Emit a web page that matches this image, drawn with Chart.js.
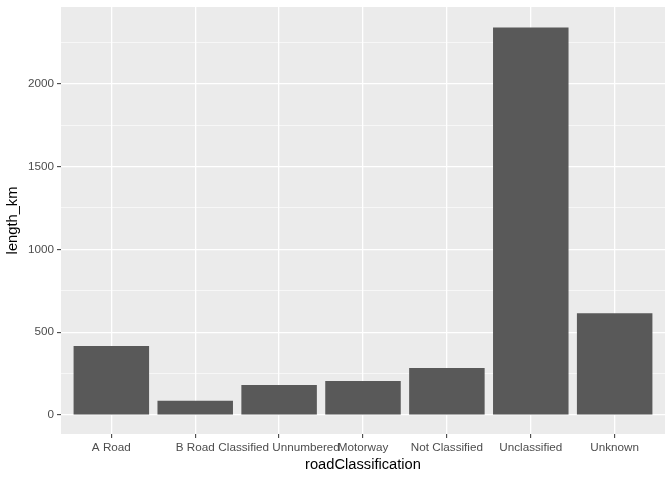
<!DOCTYPE html>
<html>
<head>
<meta charset="utf-8">
<script src="https://cdn.jsdelivr.net/npm/chart.js@4/dist/chart.umd.min.js"></script>
<style>
  html, body { margin: 0; padding: 0; background: #ffffff; }
  canvas { display: block; }
</style>
</head>
<body>
<canvas id="c" width="672" height="480"></canvas>
<script>
const categories = ["A Road", "B Road", "Classified Unnumbered", "Motorway", "Not Classified", "Unclassified", "Unknown"];
const lengthKm = [417, 86, 182, 206, 284, 2339, 615];
const yMajorTicks = [0, 500, 1000, 1500, 2000];
const yMinorTicks = [250, 750, 1250, 1750, 2250];

const FONT = "'Liberation Sans', Arial, Helvetica, sans-serif";

const panelBg = {
  id: 'panelBg',
  beforeDraw(chart) {
    const { ctx, chartArea: a } = chart;
    ctx.save();
    ctx.fillStyle = '#EBEBEB';
    ctx.fillRect(a.left, a.top, a.right - a.left, a.bottom - a.top);
    ctx.restore();
  }
};

const allY = yMajorTicks.concat(yMinorTicks).sort((a, b) => a - b);
const isMajor = v => yMajorTicks.includes(v);

new Chart(document.getElementById('c'), {
  type: 'bar',
  data: {
    datasets: [{
      data: categories.map((c, i) => ({ x: i + 1, y: lengthKm[i] })),
      backgroundColor: '#595959',
      borderWidth: 0,
      categoryPercentage: 1,
      barPercentage: 0.9
    }]
  },
  plugins: [panelBg],
  options: {
    responsive: false,
    animation: false,
    layout: { padding: { left: 0, right: 7, top: 7, bottom: 0 } },
    plugins: { legend: { display: false }, tooltip: { enabled: false } },
    scales: {
      x: {
        type: 'linear',
        offset: false,
        min: 0.4,
        max: 7.6,
        afterBuildTicks: s => { s.ticks = categories.map((c, i) => ({ value: i + 1 })); },
        afterFit: s => { s.height = 46; s.paddingLeft = 0; s.paddingRight = 0; },
        border: { display: false },
        grid: {
          offset: false,
          color: '#FFFFFF',
          lineWidth: 1.3,
          tickColor: '#333333',
          tickWidth: 1,
          tickLength: 4,
          drawTicks: true
        },
        ticks: {
          autoSkip: false,
          maxRotation: 0,
          minRotation: 0,
          padding: 3,
          color: '#4D4D4D',
          font: { family: FONT, size: 11.7 },
          callback: v => categories[v - 1]
        },
        title: {
          display: true,
          text: 'roadClassification',
          color: '#000000',
          font: { family: FONT, size: 14.7 },
          padding: { top: 0, bottom: 6 }
        }
      },
      y: {
        type: 'linear',
        min: -114,
        max: 2462,
        afterBuildTicks: s => { s.ticks = allY.map(v => ({ value: v })); },
        afterFit: s => { s.width = 61; s.paddingTop = 0; s.paddingBottom = 0; },
        border: { display: false },
        grid: {
          color: '#FFFFFF',
          lineWidth: ctx => (ctx.tick && isMajor(ctx.tick.value)) ? 1.3 : 0.6,
          tickColor: ctx => (ctx.tick && isMajor(ctx.tick.value)) ? '#333333' : 'rgba(0,0,0,0)',
          tickWidth: 1,
          tickLength: 4
        },
        ticks: {
          padding: 3,
          color: '#4D4D4D',
          font: { family: FONT, size: 11.7 },
          callback: v => isMajor(v) ? String(v) : ''
        },
        title: {
          display: true,
          text: 'length_km',
          color: '#000000',
          font: { family: FONT, size: 14.7 },
          padding: { top: 4, bottom: 0 }
        }
      }
    }
  }
});
</script>
</body>
</html>
